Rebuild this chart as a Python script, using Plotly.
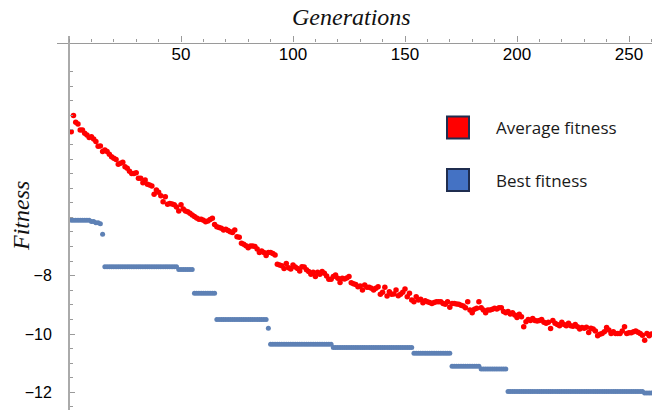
import plotly.graph_objects as go

# ---------------- data ----------------
generations = list(range(1, 261))

average_fitness = [
    -3.06, -2.50, -2.74, -2.80, -3.00, -3.00, -3.11, -3.17, -3.26, -3.23,
    -3.31, -3.40, -3.56, -3.55, -3.74, -3.69, -3.74, -3.83, -3.92, -3.97,
    -4.01, -4.18, -4.14, -4.11, -4.26, -4.31, -4.42, -4.49, -4.49, -4.47,
    -4.66, -4.66, -4.81, -4.72, -4.86, -4.89, -4.92, -5.21, -5.06, -5.14,
    -5.26, -5.46, -5.29, -5.55, -5.52, -5.54, -5.57, -5.64, -5.78, -5.57,
    -5.71, -5.78, -5.81, -5.86, -5.92, -5.97, -6.02, -6.06, -6.06, -6.10,
    -6.15, -6.12, -6.07, -6.03, -6.24, -6.32, -6.35, -6.37, -6.43, -6.41,
    -6.45, -6.49, -6.52, -6.43, -6.66, -6.68, -6.89, -6.92, -6.97, -7.04,
    -6.98, -6.98, -7.00, -7.08, -7.20, -7.15, -7.20, -7.31, -7.20, -7.20,
    -7.24, -7.29, -7.61, -7.63, -7.66, -7.75, -7.58, -7.73, -7.77, -7.63,
    -7.70, -7.75, -7.84, -7.69, -7.70, -7.80, -7.86, -7.95, -7.88, -8.03,
    -7.88, -7.95, -7.86, -7.92, -8.01, -8.12, -8.12, -8.03, -7.98, -8.09,
    -8.23, -8.09, -8.11, -8.08, -8.03, -8.24, -8.28, -8.30, -8.38, -8.35,
    -8.49, -8.32, -8.40, -8.40, -8.43, -8.49, -8.43, -8.38, -8.64, -8.57,
    -8.40, -8.70, -8.55, -8.64, -8.63, -8.49, -8.69, -8.64, -8.57, -8.46,
    -8.72, -8.60, -8.83, -8.89, -8.72, -8.83, -8.81, -8.93, -8.86, -8.89,
    -8.92, -8.95, -8.92, -8.89, -8.89, -8.89, -8.95, -8.98, -8.89, -9.08,
    -8.95, -8.95, -8.97, -8.98, -9.01, -9.04, -9.10, -8.89, -9.18, -9.27,
    -9.15, -9.12, -8.89, -9.10, -9.18, -9.27, -9.18, -9.18, -9.15, -9.12,
    -9.14, -9.10, -9.10, -9.23, -9.27, -9.23, -9.31, -9.27, -9.35, -9.43,
    -9.32, -9.41, -9.75, -9.58, -9.50, -9.54, -9.47, -9.54, -9.55, -9.54,
    -9.50, -9.60, -9.63, -9.60, -9.81, -9.54, -9.63, -9.67, -9.72, -9.60,
    -9.67, -9.72, -9.63, -9.72, -9.73, -9.67, -9.75, -9.83, -9.78, -9.80,
    -9.77, -9.95, -9.80, -9.83, -9.90, -10.06, -10.01, -9.98, -9.92, -9.78,
    -9.86, -9.98, -9.92, -9.98, -9.98, -9.98, -9.90, -9.75, -9.98, -9.96,
    -9.96, -9.92, -9.90, -9.94, -9.98, -10.04, -10.21, -9.98, -10.06, -10.00,
]

# best fitness plateaus: (value, number of generations)
best_plateaus = [
    (-6.10, 9), (-6.14, 2), (-6.18, 2), (-6.22, 1), (-6.58, 1),
    (-7.69, 33), (-7.79, 7), (-8.60, 10), (-9.50, 23), (-9.80, 1),
    (-10.35, 28), (-10.46, 36), (-10.66, 17), (-11.11, 13), (-11.20, 12),
    (-11.97, 61), (-12.02, 4),
]
best_fitness = []
for v, n in best_plateaus:
    best_fitness += [v] * n

x_major_ticks = [50, 100, 150, 200, 250]
y_major_ticks = [-8, -10, -12]
y_tick_labels = ["\u22128", "\u221210", "\u221212"]

x_title = "Generations"
y_title = "Fitness"
legend_labels = ["Average fitness", "Best fitness"]

# ---------------- layout geometry ----------------
W, H = 652, 410
ML, MR, MT, MB = 57, 0, 36, 0
X_RANGE = [-5.36, 260.27]
Y_RANGE = [-12.607, 0.223]

def px_to_paper(px, py):
    return ((px - ML) / (W - ML - MR), 1 - (py - MT) / (H - MT - MB))

yaxis_pos = (0 - X_RANGE[0]) / (X_RANGE[1] - X_RANGE[0])
xaxis_pos = (0 - Y_RANGE[0]) / (Y_RANGE[1] - Y_RANGE[0])

fig = go.Figure()
fig.add_trace(go.Scatter(
    x=generations, y=best_fitness, mode="markers",
    marker=dict(color="#5E81B5", size=5, line=dict(width=0)),
    name=legend_labels[1], showlegend=False, cliponaxis=False,
))
fig.add_trace(go.Scatter(
    x=generations, y=average_fitness, mode="markers",
    marker=dict(color="#FF0000", size=5.5, line=dict(width=0)),
    name=legend_labels[0], showlegend=False, cliponaxis=False,
))

axis_gray = "#9A9A9A"
fig.update_layout(
    width=W, height=H,
    margin=dict(l=ML, r=MR, t=MT, b=MB, pad=0),
    paper_bgcolor="white", plot_bgcolor="white",
    xaxis=dict(
        range=X_RANGE, side="top", anchor="free", position=xaxis_pos,
        showgrid=False, zeroline=False, showline=True,
        linecolor=axis_gray, linewidth=1.2,
        tickmode="array", tickvals=x_major_ticks,
        ticks="outside", ticklen=6, tickwidth=1, tickcolor=axis_gray,
        ticklabelposition="inside", ticklabelstandoff=5,
        tickfont=dict(family="Liberation Sans", size=17, color="#000000"),
        minor=dict(tickmode="linear", tick0=0, dtick=10, ticks="outside",
                   ticklen=3, tickwidth=1, tickcolor=axis_gray, showgrid=False),
        automargin=False,
    ),
    yaxis=dict(
        range=Y_RANGE, anchor="free", position=yaxis_pos,
        showgrid=False, zeroline=False, showline=True,
        linecolor="#AAAAAA", linewidth=2,
        tickmode="array", tickvals=y_major_ticks, ticktext=y_tick_labels,
        ticks="inside", ticklen=5, tickwidth=1, tickcolor=axis_gray,
        ticklabelstandoff=13,
        tickfont=dict(family="Liberation Sans", size=16, color="#000000"),
        minor=dict(tickmode="linear", tick0=0, dtick=0.5, ticks="inside",
                   ticklen=3, tickwidth=1, tickcolor=axis_gray, showgrid=False),
        automargin=False,
    ),
)

# axis titles
tx, ty = px_to_paper(351, 17)
fig.add_annotation(
    text="<i>" + x_title + "</i>", xref="paper", yref="paper", x=tx, y=ty,
    showarrow=False, xanchor="center", yanchor="middle",
    font=dict(family="Liberation Serif", size=24, color="#111111"),
)
tx, ty = px_to_paper(21, 216)
fig.add_annotation(
    text="<i>" + y_title + "</i>", xref="paper", yref="paper", x=tx, y=ty,
    showarrow=False, xanchor="center", yanchor="middle", textangle=-90,
    font=dict(family="Liberation Serif", size=24, color="#111111"),
)

# legend (drawn as squares + texts)
legend_fills = ["#FF0000", "#4472C4"]
legend_rows_py = [127.5, 180]
for label, fill, cy in zip(legend_labels, legend_fills, legend_rows_py):
    x0, y0 = px_to_paper(447, cy - 11)
    x1, y1 = px_to_paper(469, cy + 11)
    fig.add_shape(type="rect", xref="paper", yref="paper",
                  x0=x0, y0=y0, x1=x1, y1=y1,
                  fillcolor=fill, line=dict(color="#1F2D4F", width=2))
    tx, ty = px_to_paper(494, cy)
    fig.add_annotation(text=label, xref="paper", yref="paper", x=tx, y=ty,
                       showarrow=False, xanchor="left", yanchor="middle",
                       font=dict(family="Open Sans", size=17, color="#1A1A1A"))

fig.write_html("out.html", config={"displayModeBar": False},
               post_script="document.body.style.margin='0';")
